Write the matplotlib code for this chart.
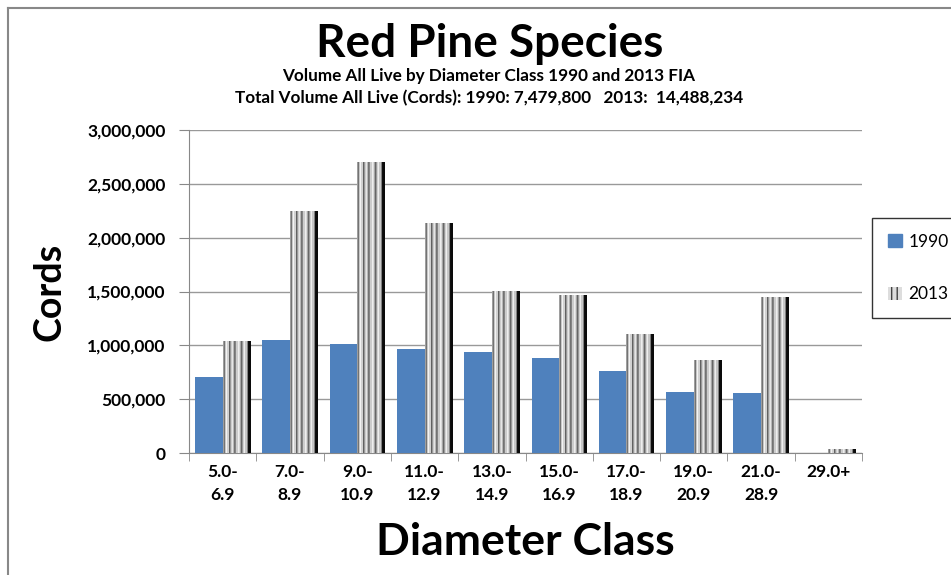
import numpy as np
import matplotlib
matplotlib.use("Agg")
import matplotlib.pyplot as plt
from matplotlib.patches import Patch
from matplotlib.lines import Line2D

plt.rcParams['font.family'] = ['Lato', 'DejaVu Sans']

classes = ["5.0-\n6.9", "7.0-\n8.9", "9.0-\n10.9", "11.0-\n12.9", "13.0-\n14.9",
           "15.0-\n16.9", "17.0-\n18.9", "19.0-\n20.9", "21.0-\n28.9", "29.0+"]
vol_1990 = [710000, 1050000, 1010000, 970000, 940000, 880000, 760000, 570000, 560000, 0]
vol_2013 = [1040000, 2240000, 2700000, 2135000, 1500000, 1460000, 1100000, 855000, 1440000, 30000]
yticks = [0, 500000, 1000000, 1500000, 2000000, 2500000, 3000000]

# grey stripe pattern used for the 2013 bars (left -> right)
stripe = np.array([0.62, 0.45, 0.78, 0.95, 0.82, 0.38, 0.60, 0.80, 0.90, 0.72,
                   0.45, 0.52, 0.80, 0.93, 0.85, 0.65, 0.40, 0.60, 0.82, 0.93,
                   0.78, 0.50, 0.06, 0.04, 0.04])

fig = plt.figure(figsize=(9.51, 5.75), dpi=100)
ax = fig.add_axes([189 / 951, 1 - 453 / 575, (862 - 189) / 951, (453 - 130) / 575])

x = np.arange(len(classes))
w = 0.41
ax.bar(x - w / 2, vol_1990, width=w, color="#4f81bd", zorder=3)
for xi, v in zip(x, vol_2013):
    ax.imshow(stripe[None, :], cmap="gray", vmin=0, vmax=1, aspect="auto",
              extent=(xi, xi + w, 0, v), interpolation="nearest", zorder=3)

ax.set_xlim(-0.5, len(classes) - 0.5)
ax.set_ylim(0, 3000000)
ax.set_yticks(yticks)
ax.set_yticklabels([f"{t:,}" for t in yticks], fontsize=12.5, fontweight="bold")
ax.set_xticks(x)
ax.set_xticklabels(classes, fontsize=12.5, fontweight="bold", linespacing=1.5)
ax.set_xticks(np.arange(len(classes) + 1) - 0.5, minor=True)
ax.tick_params(axis="x", which="major", length=0, pad=8)
ax.tick_params(axis="x", which="minor", length=6, color="#888888")
ax.tick_params(axis="y", length=7, color="#888888", pad=10)
ax.grid(axis="y", color="#999999", linewidth=1, zorder=0)
for s in ["top", "right"]:
    ax.spines[s].set_visible(False)
for s in ["left", "bottom"]:
    ax.spines[s].set_color("#888888")

ax.set_ylabel("Cords", fontsize=27, fontweight="bold", labelpad=15)
ax.set_xlabel("Diameter Class", fontsize=32, fontweight="bold", labelpad=14)

fig.text(0.515, 0.924, "Red Pine Species", fontsize=33, fontweight="bold",
         ha="center", va="center")
fig.text(0.514, 0.868, "Volume All Live by Diameter Class 1990 and 2013 FIA",
         fontsize=12.3, fontweight="bold", ha="center", va="center")
fig.text(0.514, 0.830, "Total Volume All Live (Cords): 1990: 7,479,800   2013:  14,488,234",
         fontsize=12.3, fontweight="bold", ha="center", va="center")

handles = [Patch(facecolor="#4f81bd", edgecolor="#4f81bd"),
           Patch(facecolor="#dddddd", edgecolor="#444444", hatch="|||", linewidth=0)]
leg = fig.legend(handles, ["1990", "2013"], loc="center left",
                 bbox_to_anchor=(872 / 951, 1 - 268 / 575), fontsize=12.5, frameon=True,
                 fancybox=False, edgecolor="black", labelspacing=2.1,
                 handlelength=0.8, handleheight=0.8, handletextpad=0.4,
                 borderpad=0.9, borderaxespad=0)
leg.get_frame().set_linewidth(1)

# chart area border (top and left edges visible)
fig.add_artist(Line2D([8 / 951, 1], [1 - 8 / 575, 1 - 8 / 575], transform=fig.transFigure,
                      color="#888888", linewidth=1.5))
fig.add_artist(Line2D([8 / 951, 8 / 951], [0, 1 - 8 / 575], transform=fig.transFigure,
                      color="#888888", linewidth=1.5))

fig.savefig("out.png", dpi=100, facecolor="white")
